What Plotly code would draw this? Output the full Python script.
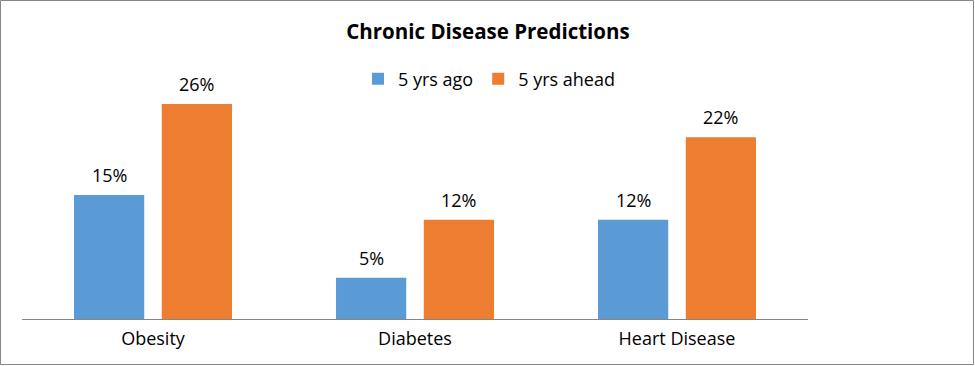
import plotly.graph_objects as go

categories = ["Obesity", "Diabetes", "Heart Disease"]
series_names = ["5 yrs ago", "5 yrs ahead"]
ago_values = [0.15, 0.05, 0.12]
ahead_values = [0.26, 0.12, 0.22]
colors = ["#5B9BD5", "#ED7D31"]

W, H = 975, 366
L, R = 22, 808
T, B = 71, 319
FONT = "Open Sans, sans-serif"
BARGAP, GROUPGAP = 0.33, 0.2

fig = go.Figure()
pw = R - L
ph = B - T
slot = pw / len(categories) * (1 - BARGAP) / 2
offsets = [-slot / 2, slot / 2]

for name, vals, c, off in zip(series_names, [ago_values, ahead_values], colors, offsets):
    fig.add_trace(go.Bar(
        x=categories, y=vals, name=name, marker_color=c, marker_line_width=0,
    ))
    for cat, v in zip(categories, vals):
        fig.add_annotation(x=cat, y=v, xref="x", yref="y", text=f"{v:.0%}",
                           showarrow=False, xanchor="center", yanchor="bottom",
                           xshift=off, yshift=6,
                           font=dict(size=18, color="#000000", family=FONT))

fig.add_shape(type="rect", xref="paper", yref="paper",
              x0=(0.5 - L) / pw, x1=(973.5 - L) / pw,
              y0=(B - 364.5) / ph, y1=(B - 0.5) / ph,
              line=dict(color="#878787", width=1), layer="below")

fig.update_layout(
    width=W, height=H,
    margin=dict(l=L, r=W - R, t=T, b=H - B, pad=0, autoexpand=False),
    paper_bgcolor="white", plot_bgcolor="white",
    barmode="group", bargap=BARGAP, bargroupgap=GROUPGAP,
    title=dict(text="<b>Chronic Disease Predictions</b>", x=488 / W, xref="container",
               xanchor="center", y=1 - 32 / H, yanchor="middle",
               font=dict(size=20.5, color="#000000", family=FONT)),
    legend=dict(orientation="h", x=489 / W, xref="container", xanchor="center",
                y=1 - 79 / H, yref="container", yanchor="middle",
                font=dict(size=18, color="#000000", family=FONT),
                itemwidth=30, tracegroupgap=0, bgcolor="rgba(0,0,0,0)"),
    showlegend=True,
    xaxis=dict(showline=True, linecolor="#868686", linewidth=1,
               ticks="outside", ticklen=3, tickcolor="rgba(0,0,0,0)",
               tickfont=dict(size=18, color="#000000", family=FONT), showgrid=False),
    yaxis=dict(range=[0, 0.30], visible=False, showgrid=False, zeroline=False),
)

fig.write_html("out.html", config={"displayModeBar": False},
               post_script="document.body.style.margin='0';document.body.style.overflow='hidden';")
